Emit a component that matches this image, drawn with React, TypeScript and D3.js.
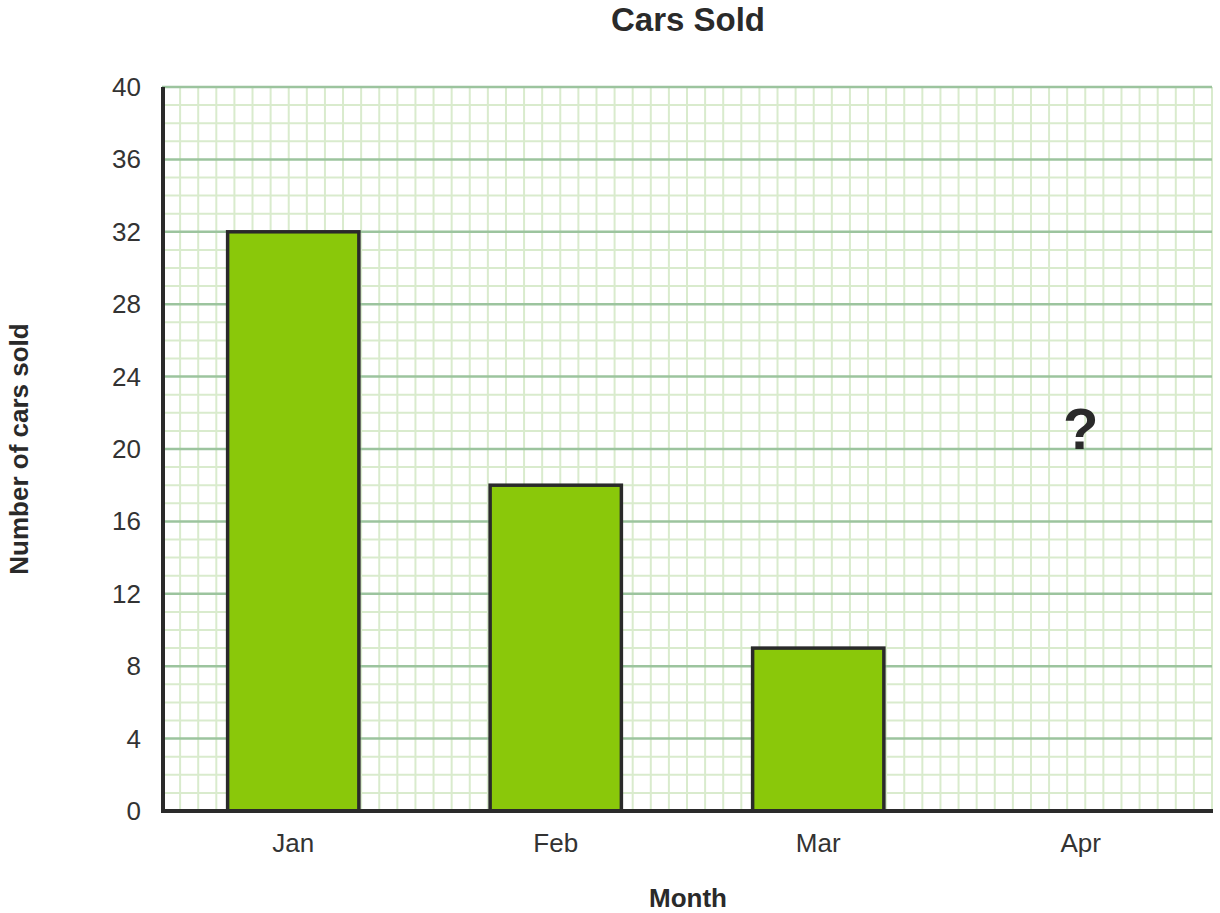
import React from "react";
import * as d3 from "d3";

const months = ["Jan", "Feb", "Mar", "Apr"];
const carsSold: (number | null)[] = [32, 18, 9, null];
const yTicks = [0, 4, 8, 12, 16, 20, 24, 28, 32, 36, 40];
const unknownLabel = "?";
const unknownAt = 20;
const gridColumns = 58;

const W = 1220;
const H = 913;
const M = { left: 162, right: 1212, top: 87, bottom: 811 };
const FONT = "'Liberation Sans', Arial, Helvetica, sans-serif";

export default function App() {
  const y = d3.scaleLinear().domain([0, 40]).range([M.bottom, M.top]);
  const x = d3
    .scaleBand<string>()
    .domain(months)
    .range([M.left, M.right])
    .paddingInner(0.5)
    .paddingOuter(0.25);
  const xg = d3.scaleLinear().domain([0, gridColumns]).range([M.left, M.right]);

  const minorY = d3.range(0, 41).filter((v) => v % 4 !== 0);
  const minorX = d3.range(1, gridColumns + 1);

  return (
    <svg
      width={W}
      height={H}
      style={{ position: "absolute", left: 0, top: 0, background: "#fff" }}
      fontFamily={FONT}
    >
      <g>
        {minorX.map((k) => (
          <line key={"vx" + k} x1={xg(k)} x2={xg(k)} y1={M.top} y2={M.bottom} stroke="#d9ebcd" strokeWidth={2} />
        ))}
        {minorY.map((v) => (
          <line key={"hy" + v} x1={M.left} x2={M.right} y1={y(v)} y2={y(v)} stroke="#d9ebcd" strokeWidth={2} />
        ))}
        {yTicks.filter((v) => v !== 0).map((v) => (
          <line key={"my" + v} x1={M.left} x2={M.right} y1={y(v)} y2={y(v)} stroke="#9cc49e" strokeWidth={2.5} />
        ))}
      </g>
      <g>
        {months.map((m, i) =>
          carsSold[i] == null ? null : (
            <rect
              key={m}
              x={x(m)}
              y={y(carsSold[i] as number)}
              width={x.bandwidth()}
              height={y(0) - y(carsSold[i] as number)}
              fill="#8ac80a"
              stroke="#2a2a2a"
              strokeWidth={3.5}
            />
          )
        )}
      </g>
      <line x1={M.left + 1} x2={M.left + 1} y1={M.top} y2={M.bottom + 2} stroke="#2a2a2a" strokeWidth={4} />
      <line x1={M.left - 1} x2={M.right + 1} y1={M.bottom} y2={M.bottom} stroke="#2a2a2a" strokeWidth={4} />
      <g fill="#333" fontSize={26}>
        {yTicks.map((v) => (
          <text key={"t" + v} x={M.left - 21} y={y(v)} textAnchor="end" dominantBaseline="central">
            {v}
          </text>
        ))}
        {months.map((m) => (
          <text key={"x" + m} x={(x(m) as number) + x.bandwidth() / 2} y={852} textAnchor="middle">
            {m}
          </text>
        ))}
      </g>
      <text
        x={(x("Apr") as number) + x.bandwidth() / 2}
        y={y(unknownAt)}
        textAnchor="middle"
        fontSize={58}
        fontWeight="bold"
        fill="#2a2a2a"
      >
        {unknownLabel}
      </text>
      <text x={688} y={31} textAnchor="middle" fontSize={33} fontWeight="bold" fill="#2a2a2a">
        Cars Sold
      </text>
      <text x={688} y={907} textAnchor="middle" fontSize={26} fontWeight="bold" fill="#2a2a2a">
        Month
      </text>
      <text
        transform={`translate(28, ${(M.top + M.bottom) / 2}) rotate(-90)`}
        textAnchor="middle"
        fontSize={26}
        fontWeight="bold"
        fill="#2a2a2a"
      >
        Number of cars sold
      </text>
    </svg>
  );
}
